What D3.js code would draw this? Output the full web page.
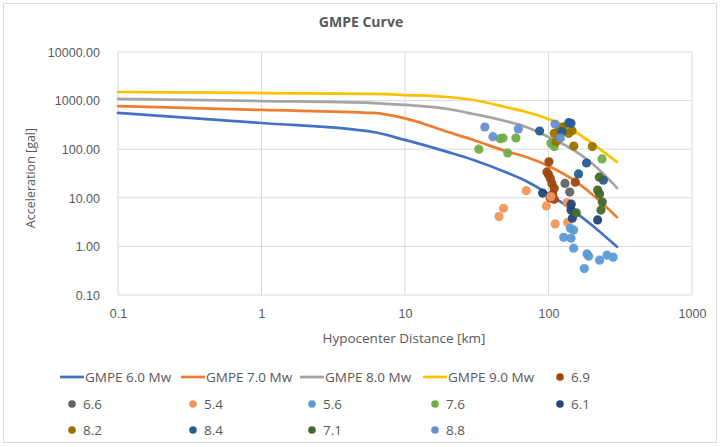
<!DOCTYPE html>
<html>
<head>
<meta charset="utf-8">
<script src="https://cdn.jsdelivr.net/npm/d3@7"></script>
<style>
  body { margin: 0; background: #fff; }
  svg { display: block; font-family: "Open Sans", "Noto Sans", sans-serif; }
</style>
</head>
<body>
<div id="chart"></div>
<script>
// GMPE curves, distance in km, acceleration in gal
const distances = [0.1, 1, 6, 10, 20, 30, 50, 70, 100, 150, 200, 300];
const gmpe60 = [556, 346, 226, 155, 87, 60, 34, 22, 12, 5.3, 2.75, 0.98];
const gmpe70 = [774, 641, 556, 430, 226, 155, 92, 69, 45, 23, 12, 4.0];
const gmpe80 = [1079, 981, 892, 812, 672, 530, 380, 286, 178, 96, 52, 16];
const gmpe90 = [1503, 1433, 1368, 1303, 1186, 1028, 738, 582, 418, 237, 134, 54.5];

const curveNames = ['GMPE 6.0 Mw', 'GMPE 7.0 Mw', 'GMPE 8.0 Mw', 'GMPE 9.0 Mw'];
const curveColors = ['#4472C4', '#ED7D31', '#A5A5A5', '#FFC000'];

// observed records: [distance km, acceleration gal]
const obs69 = [[100.7, 55], [97.5, 34], [100, 30], [103, 25], [105.7, 19.8], [109.7, 15.7], [107, 11.8], [103, 9.8], [109.7, 9.3], [153.8, 21]];
const obs66 = [[130.3, 19.8], [140.6, 13.1]];
const obs54 = [[70, 14], [48.6, 6.1], [45.2, 4.1], [96.6, 6.8], [104, 10.5], [111.4, 2.9], [134.6, 8.0], [136, 3.1]];
const obs56 = [[142, 2.36], [149.7, 2.17], [127.6, 1.54], [143.6, 1.47], [149.7, 0.92], [185.5, 0.70], [190.5, 0.63], [227, 0.52], [256, 0.66], [282, 0.6], [177.7, 0.35]];
const obs76 = [[32.7, 100], [46.1, 165], [48.2, 170], [51.9, 84], [59.3, 170], [104, 132], [109.7, 113], [236, 63]];
const obs61 = [[91, 12.5], [144, 7.4], [143.6, 5.6], [146.6, 3.8], [220, 3.5]];
const obs82 = [[109.7, 212], [117.8, 248], [126.2, 290], [138.3, 212], [145.9, 240], [150, 116], [202, 113], [113.2, 143]];
const obs84 = [[86.7, 237], [138.3, 351], [143.6, 341], [124.2, 229], [184, 52], [162, 31], [241, 23]];
const obs71 = [[226, 26.6], [220, 14.4], [227, 12], [237, 8.2], [232, 5.6], [156, 4.9]];
const obs88 = [[36, 286], [41, 181], [61.6, 261], [111, 330], [121, 170]];

const obsNames = ['6.9', '6.6', '5.4', '5.6', '7.6', '6.1', '8.2', '8.4', '7.1', '8.8'];
const obsColors = ['#9E480E', '#636363', '#F1975A', '#5B9BD5', '#70AD47', '#264478', '#997300', '#255E91', '#43682B', '#698ED0'];

const xTicks = [0.1, 1, 10, 100, 1000];
const yTicks = [0.1, 1, 10, 100, 1000, 10000];

const W = 720, H = 447;
const plot = { left: 118, right: 692, top: 52, bottom: 295 };

const svg = d3.select('#chart').append('svg')
  .attr('width', W)
  .attr('height', H);

svg.append('rect')
  .attr('x', 3.5).attr('y', 3.5)
  .attr('width', W - 7).attr('height', H - 8)
  .attr('fill', '#fff')
  .attr('stroke', '#d9d9d9');

const x = d3.scaleLog().domain([0.1, 1000]).range([plot.left, plot.right]);
const y = d3.scaleLog().domain([0.1, 10000]).range([plot.bottom, plot.top]);

// Gridlines
svg.append('g')
  .selectAll('line')
  .data(yTicks)
  .enter()
  .append('line')
  .attr('x1', plot.left).attr('x2', plot.right)
  .attr('y1', d => y(d)).attr('y2', d => y(d))
  .attr('stroke', '#d9d9d9');

svg.append('g')
  .selectAll('line')
  .data(xTicks)
  .enter()
  .append('line')
  .attr('x1', d => x(d)).attr('x2', d => x(d))
  .attr('y1', plot.top).attr('y2', plot.bottom)
  .attr('stroke', '#d9d9d9');

// Axes (labels only)
const yAxis = svg.append('g')
  .attr('transform', `translate(${plot.left - 15},0)`)
  .call(d3.axisLeft(y).tickValues(yTicks).tickFormat(d3.format('.2f')).tickSize(0));
yAxis.select('.domain').remove();
yAxis.selectAll('text')
  .style('fill', '#595959')
  .style('font-size', '12.5px')
  .attr('dy', '0.35em');

const xAxis = svg.append('g')
  .attr('transform', `translate(0,${plot.bottom + 11})`)
  .call(d3.axisBottom(x).tickValues(xTicks).tickFormat(d => String(d)).tickSize(0));
xAxis.select('.domain').remove();
xAxis.selectAll('text')
  .style('fill', '#595959')
  .style('font-size', '12.5px');

// Titles
svg.append('text')
  .attr('x', 361).attr('y', 27)
  .attr('text-anchor', 'middle')
  .style('font-size', '14px')
  .style('font-weight', 'bold')
  .style('fill', '#595959')
  .text('GMPE Curve');

svg.append('text')
  .attr('transform', `translate(35,178) rotate(-90)`)
  .attr('text-anchor', 'middle')
  .style('font-size', '12.5px')
  .style('fill', '#595959')
  .text('Acceleration [gal]');

svg.append('text')
  .attr('x', 404).attr('y', 343)
  .attr('text-anchor', 'middle')
  .style('font-size', '13.5px')
  .style('fill', '#595959')
  .text('Hypocenter Distance [km]');

// Curves
const curves = [gmpe60, gmpe70, gmpe80, gmpe90];
const line = d3.line()
  .x(d => x(d[0]))
  .y(d => y(d[1]))
  .curve(d3.curveMonotoneX);

curves.forEach((vals, i) => {
  svg.append('path')
    .datum(distances.map((d, j) => [d, vals[j]]))
    .attr('fill', 'none')
    .attr('stroke', curveColors[i])
    .attr('stroke-width', 2.75)
    .attr('stroke-linecap', 'round')
    .attr('d', line);
});

// Observations
const observations = [obs69, obs66, obs54, obs56, obs76, obs61, obs82, obs84, obs71, obs88];
observations.forEach((pts, i) => {
  svg.append('g')
    .selectAll('circle')
    .data(pts)
    .enter()
    .append('circle')
    .attr('cx', d => x(d[0]))
    .attr('cy', d => y(d[1]))
    .attr('r', 4.6)
    .attr('fill', obsColors[i])
    .attr('fill-opacity', 0.95);
});

// Legend
const colX = [60, 181, 300, 423, 548];
const rowY = [377, 404, 430];
const legendItems = curveNames.map((n, i) => ({ type: 'line', name: n, color: curveColors[i] }))
  .concat(obsNames.map((n, i) => ({ type: 'dot', name: n, color: obsColors[i] })));

legendItems.forEach((it, i) => {
  const g = svg.append('g')
    .attr('transform', `translate(${colX[i % 5]},${rowY[Math.floor(i / 5)]})`);
  if (it.type === 'line') {
    g.append('line').attr('x1', 0).attr('x2', 24).attr('y1', 0).attr('y2', 0)
      .attr('stroke', it.color).attr('stroke-width', 2.75);
    g.append('text').attr('x', 25).attr('y', 5).text(it.name)
      .style('fill', '#595959').style('font-size', '13.5px');
  } else {
    g.append('circle').attr('cx', 12).attr('cy', 0).attr('r', 3.8).attr('fill', it.color);
    g.append('text').attr('x', 23).attr('y', 5).text(it.name)
      .style('fill', '#595959').style('font-size', '13.5px');
  }
});
</script>
</body>
</html>
